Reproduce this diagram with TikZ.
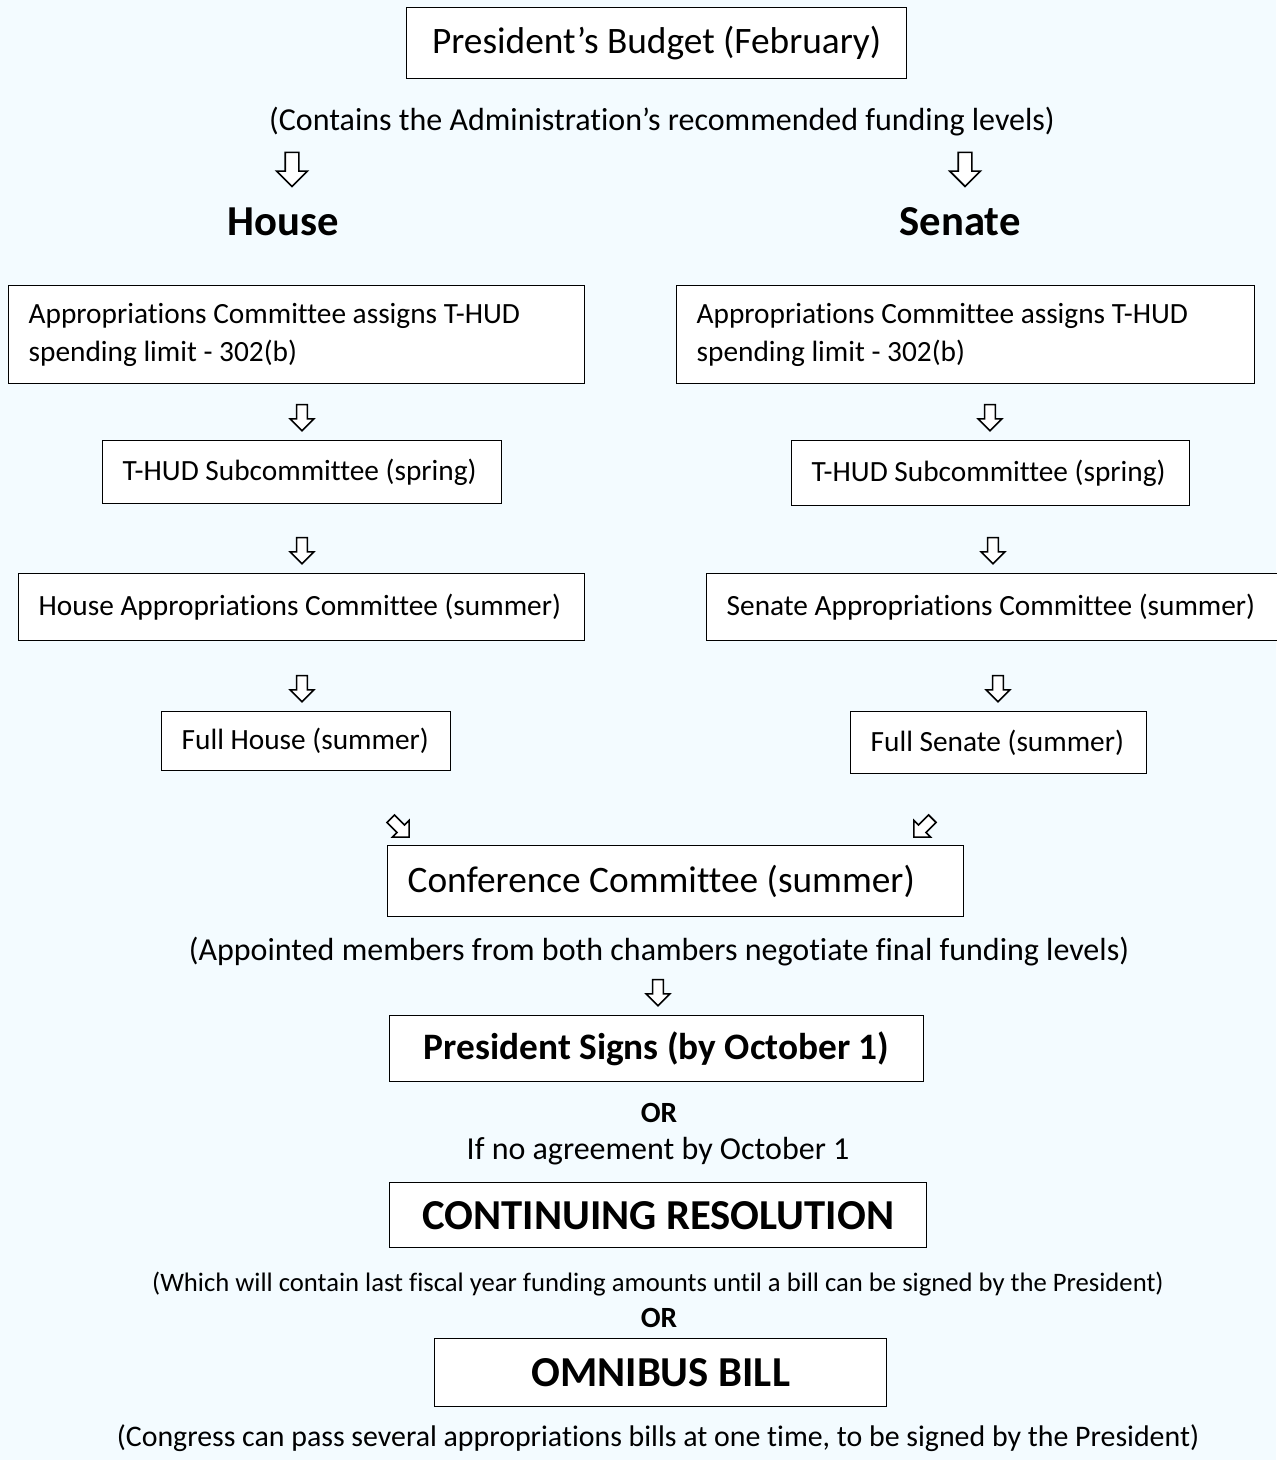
\documentclass[tikz,border=0pt]{standalone}
\usepackage{fontspec}
\setmainfont{Carlito}[Ligatures=NoCommon]
\usetikzlibrary{shapes.arrows}
\usetikzlibrary{positioning}

\definecolor{bgblue}{RGB}{243,251,255}
\newcommand\pxu{0.375pt}

\tikzset{
	box/.style={draw, fill=white, line width=0.5pt, anchor=north west, inner xsep=20*\pxu, inner ysep=0pt, align=flush left, font=\fontsize{11}{14.25}\selectfont},
	bbox/.style={box, align=flush center, font=\bfseries\fontsize{14}{17}\selectfont},
	note/.style={inner sep=0pt, font=\fontsize{12}{14}\selectfont},
	dnarrow/.style={single arrow, draw, fill=white, line width=0.6pt, inner xsep=0pt, inner ysep=2.25pt, single arrow head extend=3.2pt, minimum height=12.75pt, rotate=-90},
	smarrow/.style={dnarrow, inner ysep=1.7pt, single arrow head extend=2.4pt, minimum height=9.75pt}
}

\begin{document}
\begin{tikzpicture}[x=0.375pt, y=-0.375pt]
		\path [use as bounding box, fill = bgblue] (0, 0) rectangle (1276, 1460);

		% top of the chart
		\node (budget) [box, align = flush center, font = \fontsize{14}{17}\selectfont, minimum width = 500*\pxu, minimum height = 71*\pxu, text width = 460*\pxu] at (406, 7) {President’s Budget (February)};
		\node (contains) [note] at (662, 122) {(Contains the Administration’s recommended funding levels)};
		\node (ah) [dnarrow] at (292, 166) {};
		\node (as) [dnarrow] at (965, 166) {};
		\node (house) [font = \bfseries\fontsize{16}{19}\selectfont] at (283, 222) {House};
		\node (senate) [font = \bfseries\fontsize{16}{19}\selectfont] at (960, 222) {Senate};

		% House column
		\node (hassign) [box, minimum width = 576*\pxu, minimum height = 98*\pxu, text width = 536*\pxu] at (8, 285) {Appropriations Committee assigns T-HUD\\ spending limit - 302(b)};
		\node (ah1) [smarrow] at (302, 415) {};
		\node (hsub) [box, minimum width = 399*\pxu, minimum height = 63*\pxu, text width = 359*\pxu] at (102, 440) {T-HUD Subcommittee (spring)};
		\node (ah2) [smarrow] at (302, 548) {};
		\node (hcomm) [box, minimum width = 566*\pxu, minimum height = 67*\pxu, text width = 526*\pxu] at (18, 573) {House Appropriations Committee (summer)};
		\node (ah3) [smarrow] at (302, 686) {};
		\node (hfull) [box, minimum width = 289*\pxu, minimum height = 59*\pxu, text width = 249*\pxu] at (161, 711) {Full House (summer)};

		% Senate column
		\node (sassign) [box, minimum width = 578*\pxu, minimum height = 98*\pxu, text width = 538*\pxu] at (676, 285) {Appropriations Committee assigns T-HUD\\ spending limit - 302(b)};
		\node (as1) [smarrow] at (990, 415) {};
		\node (ssub) [box, minimum width = 398*\pxu, minimum height = 65*\pxu, text width = 358*\pxu] at (791, 440) {T-HUD Subcommittee (spring)};
		\node (as2) [smarrow] at (993, 548) {};
		\node (scomm) [box, minimum width = 580*\pxu, minimum height = 67*\pxu, text width = 540*\pxu] at (706, 573) {Senate Appropriations Committee (summer)};
		\node (as3) [smarrow] at (998, 686) {};
		\node (sfull) [box, minimum width = 296*\pxu, minimum height = 62*\pxu, text width = 256*\pxu] at (850, 711) {Full Senate (summer)};

		% both chambers meet
		\node (ahc) [smarrow, rotate = 45] at (398, 826) {};
		\node (asc) [smarrow, rotate = -45] at (925, 826) {};
		\node (conf) [box, font = \fontsize{14}{17}\selectfont, minimum width = 576*\pxu, minimum height = 71*\pxu, text width = 536*\pxu] at (387, 845) {Conference Committee (summer)};
		\node (appointed) [note] at (659, 952) {(Appointed members from both chambers negotiate final funding levels)};
		\node (ac) [smarrow] at (658, 990) {};

		% outcomes
		\node (signs) [bbox, minimum width = 534*\pxu, minimum height = 66*\pxu, text width = 494*\pxu] at (389, 1015) {President Signs (by October 1)};
		\node (or1) [note, font = \bfseries\fontsize{11}{13}\selectfont] at (659, 1113) {OR};
		\node (noagree) [note] at (658, 1151) {If no agreement by October 1};
		\node (cres) [bbox, font = \bfseries\fontsize{16}{19}\selectfont, minimum width = 537*\pxu, minimum height = 65*\pxu, text width = 497*\pxu] at (389, 1182) {CONTINUING RESOLUTION};
		\node (which) [note, font = \fontsize{10}{12}\selectfont] at (658, 1284) {(Which will contain last fiscal year funding amounts until a bill can be signed by the President)};
		\node (or2) [note, font = \bfseries\fontsize{11}{13}\selectfont] at (659, 1318) {OR};
		\node (omni) [bbox, font = \bfseries\fontsize{16}{19}\selectfont, minimum width = 452*\pxu, minimum height = 68*\pxu, text width = 412*\pxu] at (434, 1338) {OMNIBUS BILL};
		\node (congress) [note, font = \fontsize{11.2}{13}\selectfont] at (658, 1438) {(Congress can pass several appropriations bills at one time, to be signed by the President)};
	\end{tikzpicture}
\end{document}
